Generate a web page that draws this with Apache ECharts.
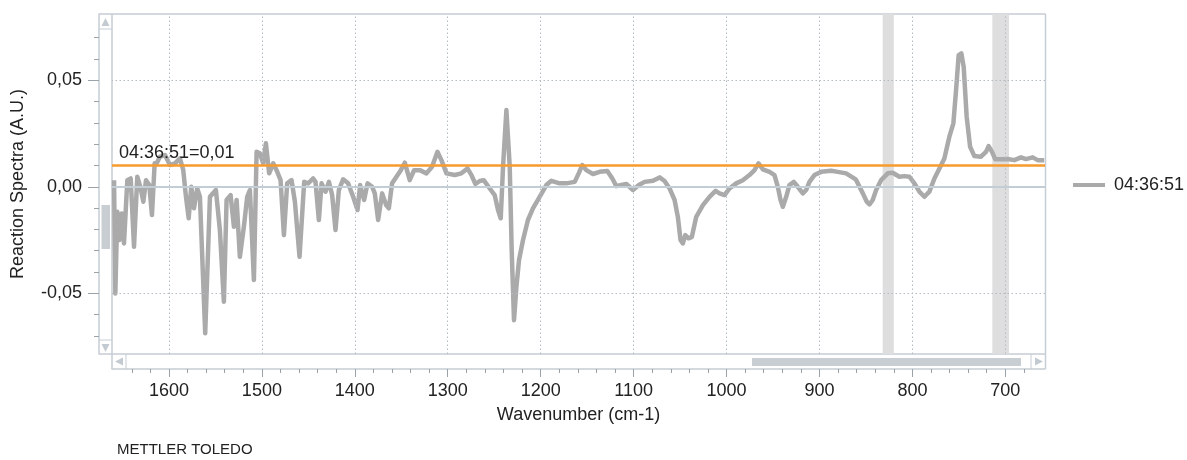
<!DOCTYPE html>
<html>
<head>
<meta charset="utf-8">
<title>Reaction Spectra</title>
<script src="https://cdn.jsdelivr.net/npm/echarts@6/dist/echarts.min.js"></script>
<style>
  html, body { margin: 0; padding: 0; background: #ffffff; }
  #chart { width: 1187px; height: 460px; }
</style>
</head>
<body>
<div id="chart"></div>
<script>
// Spectrum sampled at 04:36:51 (wavenumber in cm-1, absorbance in A.U.)
const wavenumbers = [
  1659.1, 1657.7, 1655.6, 1653.4, 1650.9, 1648.4, 1644.8, 1641.2, 1637.6, 1634.1,
  1630.4, 1627.6, 1624.7, 1621.2, 1618.3, 1615.4, 1613.2, 1609.7, 1604.3, 1598.9,
  1593.5, 1588.2, 1584.6, 1581.7, 1578.8, 1576.0, 1573.1, 1569.6, 1566.7, 1561.0,
  1555.9, 1549.5, 1545.2, 1540.9, 1538.0, 1533.7, 1530.1, 1527.2, 1523.7, 1519.4,
  1515.8, 1512.9, 1508.6, 1505.7, 1502.2, 1498.6, 1495.7, 1492.2, 1487.8, 1484.2,
  1479.9, 1476.3, 1472.8, 1468.1, 1464.5, 1459.5, 1454.5, 1450.2, 1444.8, 1442.3,
  1438.7, 1435.8, 1431.5, 1427.9, 1424.4, 1420.8, 1417.2, 1412.6, 1407.2, 1401.8,
  1397.1, 1394.3, 1390.0, 1386.3, 1381.4, 1378.5, 1374.9, 1370.6, 1366.3, 1363.4,
  1359.9, 1355.2, 1350.5, 1346.2, 1340.9, 1336.2, 1330.1, 1322.9, 1316.9, 1311.1,
  1306.8, 1301.4, 1292.5, 1285.3, 1278.8, 1274.5, 1270.2, 1265.6, 1261.3, 1254.8,
  1249.5, 1245.9, 1243.0, 1240.5, 1236.9, 1233.3, 1231.2, 1228.7, 1226.1, 1223.3,
  1219.0, 1213.7, 1208.3, 1201.1, 1193.9, 1188.5, 1179.6, 1172.4, 1163.4, 1159.1,
  1155.2, 1150.9, 1143.7, 1136.6, 1128.3, 1122.9, 1118.6, 1113.2, 1107.8, 1100.7,
  1094.3, 1088.2, 1079.2, 1072.0, 1066.7, 1061.3, 1055.9, 1052.4, 1049.5, 1047.0,
  1044.4, 1040.9, 1037.3, 1032.6, 1025.4, 1018.3, 1011.8, 1007.5, 1002.2, 996.8,
  989.6, 982.5, 975.3, 969.9, 965.6, 961.0, 953.7, 948.4, 944.8, 941.9,
  939.4, 935.8, 932.3, 927.6, 923.3, 917.9, 914.3, 910.8, 905.4, 898.2,
  887.4, 880.3, 871.3, 861.0, 853.3, 849.1, 846.2, 842.7, 839.0, 833.7,
  826.5, 821.2, 814.0, 808.6, 803.2, 797.8, 792.5, 787.1, 781.7, 776.3,
  770.9, 765.6, 760.2, 755.9, 753.0, 750.2, 747.3, 744.8, 741.6, 737.9,
  733.3, 726.2, 720.8, 718.0, 714.3, 710.8, 704.6, 697.5, 690.3, 683.1,
  677.8, 670.6, 665.2, 658.1
];
const absorbance = [
  0.0031, -0.0501, -0.0117, -0.0250, -0.0125, -0.0266, 0.0031, 0.0039, -0.0282, 0.0047,
  -0.0008, -0.0070, 0.0031, 0.0008, -0.0133, 0.0110, 0.0110, 0.0141, 0.0149, 0.0102,
  0.0110, 0.0133, 0.0078, -0.0047, -0.0148, 0.0000, -0.0101, -0.0008, -0.0047, -0.0688,
  -0.0047, -0.0015, -0.0203, -0.0540, -0.0062, -0.0039, -0.0188, -0.0062, -0.0329, -0.0188,
  -0.0047, -0.0015, -0.0438, 0.0164, 0.0157, 0.0110, 0.0204, 0.0063, 0.0110, 0.0078,
  0.0031, -0.0227, 0.0016, 0.0031, -0.0070, -0.0329, 0.0023, 0.0016, 0.0039, 0.0023,
  -0.0156, 0.0016, -0.0023, 0.0023, -0.0039, -0.0203, -0.0016, 0.0035, 0.0016, -0.0047,
  -0.0109, 0.0008, -0.0062, 0.0016, 0.0000, -0.0031, -0.0156, -0.0031, -0.0086, -0.0101,
  0.0016, 0.0047, 0.0078, 0.0113, 0.0031, 0.0078, 0.0078, 0.0063, 0.0094, 0.0164,
  0.0125, 0.0063, 0.0055, 0.0063, 0.0086, 0.0055, 0.0013, 0.0027, 0.0031, -0.0008,
  -0.0039, -0.0109, -0.0148, 0.0094, 0.0360, 0.0094, -0.0297, -0.0626, -0.0469, -0.0344,
  -0.0250, -0.0156, -0.0101, -0.0047, 0.0008, 0.0028, 0.0016, 0.0016, 0.0023, 0.0063,
  0.0102, 0.0078, 0.0060, 0.0070, 0.0074, 0.0039, 0.0003, 0.0008, 0.0013, -0.0015,
  0.0008, 0.0023, 0.0028, 0.0044, 0.0027, -0.0008, -0.0062, -0.0141, -0.0250, -0.0266,
  -0.0227, -0.0242, -0.0235, -0.0141, -0.0086, -0.0047, -0.0019, -0.0031, -0.0039, -0.0008,
  0.0016, 0.0031, 0.0055, 0.0078, 0.0110, 0.0082, 0.0070, 0.0055, 0.0000, -0.0062,
  -0.0094, -0.0047, 0.0008, 0.0023, 0.0000, -0.0031, -0.0015, 0.0023, 0.0055, 0.0070,
  0.0075, 0.0070, 0.0063, 0.0035, -0.0031, -0.0070, -0.0083, -0.0062, -0.0015, 0.0031,
  0.0063, 0.0066, 0.0047, 0.0050, 0.0047, 0.0016, -0.0023, -0.0047, -0.0023, 0.0039,
  0.0086, 0.0133, 0.0235, 0.0298, 0.0454, 0.0618, 0.0626, 0.0563, 0.0329, 0.0188,
  0.0144, 0.0141, 0.0164, 0.0191, 0.0164, 0.0129, 0.0129, 0.0130, 0.0125, 0.0138,
  0.0130, 0.0138, 0.0125, 0.0125
];

const seriesName = '04:36:51';
// Cursor value read on the spectrum at the selected time
const cursorValue = 0.0113;

// Axis ticks
const majorXTicks = [1600, 1500, 1400, 1300, 1200, 1100, 1000, 900, 800, 700];
const minorXTicks = [1640, 1620, 1580, 1560, 1540, 1520, 1480, 1460, 1440, 1420, 1380, 1360, 1340, 1320,
  1280, 1260, 1240, 1220, 1180, 1160, 1140, 1120, 1080, 1060, 1040, 1020, 980, 960, 940, 920,
  880, 860, 840, 820, 780, 760, 740, 720, 680];
const majorYTicks = [-0.05, 0, 0.05];
const minorYTicks = [-0.07, -0.06, -0.04, -0.03, -0.02, -0.01, 0.01, 0.02, 0.03, 0.04, 0.06, 0.07];

// Highlighted wavenumber regions (cm-1)
const highlightBands = [[832, 820], [714, 696]];

const X_MIN = 657.3, X_MAX = 1661.3;
const Y_MIN = -0.0785, Y_MAX = 0.0811;

const FONT = "'Liberation Sans', Arial, sans-serif";
const TEXT = '#222222';
const FRAME = '#c6cdd4';
const GRIDDOT = '#b3bbc3';
const SCROLL = '#c9ced3';
const TICK = '#9aa2aa';

const fmt = v => v.toFixed(2).replace('.', ',');

const chart = echarts.init(document.getElementById('chart'), null, { renderer: 'canvas' });

const spectrum = wavenumbers.map((w, i) => [w, absorbance[i]]);

const baseX = {
  type: 'value', inverse: true, min: X_MIN, max: X_MAX,
  position: 'bottom', offset: 15, splitLine: { show: false }
};
const baseY = {
  type: 'value', min: Y_MIN, max: Y_MAX,
  position: 'left', offset: 13, splitLine: { show: false }
};

const dotted = { color: GRIDDOT, type: [1.5, 2.5], width: 1 };

chart.setOption({
  animation: false,
  backgroundColor: '#ffffff',
  textStyle: { fontFamily: FONT },
  grid: { left: 112, right: 142, top: 14, bottom: 106, outerBoundsMode: 'none' },
  legend: {
    data: [seriesName],
    left: 1073, top: 176, padding: 0,
    icon: 'rect', itemWidth: 32, itemHeight: 4,
    textStyle: { fontSize: 18, color: TEXT, fontFamily: FONT, padding: [0, 0, 0, 4] }
  },
  xAxis: [
    Object.assign({}, baseX, {
      name: 'Wavenumber (cm-1)', nameLocation: 'middle', nameGap: 37,
      nameTextStyle: { fontSize: 18, color: TEXT, fontFamily: FONT },
      axisLine: { show: true, onZero: false, lineStyle: { color: FRAME, width: 1.5 } },
      axisTick: { show: true, customValues: majorXTicks, length: 8, lineStyle: { color: TICK } },
      axisLabel: {
        show: true, customValues: majorXTicks, margin: 13, fontSize: 18, color: TEXT, fontFamily: FONT,
        formatter: v => String(Math.round(v))
      }
    }),
    Object.assign({}, baseX, {
      axisLine: { show: false, onZero: false },
      axisTick: { show: true, customValues: minorXTicks, length: 4, lineStyle: { color: TICK } },
      axisLabel: { show: false }
    })
  ],
  yAxis: [
    Object.assign({}, baseY, {
      name: 'Reaction Spectra (A.U.)', nameLocation: 'middle', nameGap: 72,
      nameTextStyle: { fontSize: 18, color: TEXT, fontFamily: FONT },
      axisLine: { show: true, onZero: false, lineStyle: { color: FRAME, width: 1.5 } },
      axisTick: { show: true, customValues: majorYTicks, length: 11, lineStyle: { color: TICK } },
      axisLabel: { show: true, customValues: majorYTicks, margin: 17, fontSize: 18, color: TEXT, fontFamily: FONT, formatter: fmt }
    }),
    Object.assign({}, baseY, {
      axisLine: { show: false, onZero: false },
      axisTick: { show: true, customValues: minorYTicks, length: 5, lineStyle: { color: TICK } },
      axisLabel: { show: false }
    })
  ],
  series: [
    {
      // dotted grid lines
      name: 'gridlines', type: 'line', data: [], silent: true, z: 1,
      markLine: {
        silent: true, symbol: ['none', 'none'], animation: false,
        label: { show: false },
        lineStyle: dotted,
        data: majorXTicks.map(x => ({ xAxis: x }))
          .concat(majorYTicks.filter(y => y !== 0).map(y => ({ yAxis: y })))
      }
    },
    {
      // solid zero baseline
      name: 'baseline', type: 'line', data: [], silent: true, z: 2,
      markLine: {
        silent: true, symbol: ['none', 'none'], animation: false,
        label: { show: false },
        lineStyle: { color: '#c4ccd4', type: 'solid', width: 2 },
        data: [{ yAxis: 0 }]
      }
    },
    {
      // highlighted regions
      name: 'regions', type: 'line', data: [], silent: true, z: 1,
      markArea: {
        silent: true,
        itemStyle: { color: '#dedede' },
        data: highlightBands.map(b => [{ xAxis: b[0] }, { xAxis: b[1] }])
      }
    },
    {
      name: seriesName, type: 'line', data: spectrum, z: 3,
      symbol: 'none', showSymbol: false,
      color: '#aaaaaa',
      lineStyle: { color: '#aaaaaa', width: 4.5, join: 'round' },
      emphasis: { disabled: true }
    },
    {
      // cursor line
      name: 'cursor', type: 'line', data: [], silent: true, z: 4,
      markLine: {
        silent: true, symbol: ['none', 'none'], animation: false,
        lineStyle: { color: '#f89a2c', type: 'solid', width: 2.5 },
        label: {
          show: true, position: 'insideEndTop', distance: [7, 3],
          formatter: seriesName + '=' + fmt(cursorValue),
          fontSize: 18, color: TEXT, fontFamily: FONT
        },
        data: [{ yAxis: cursorValue }]
      }
    }
  ],
  graphic: [
    // frame
    { type: 'line', shape: { x1: 99, y1: 14, x2: 1045.5, y2: 14 }, style: { stroke: FRAME, lineWidth: 1.5 }, silent: true },
    { type: 'line', shape: { x1: 1045.5, y1: 14, x2: 1045.5, y2: 369 }, style: { stroke: FRAME, lineWidth: 1.5 }, silent: true },
    { type: 'line', shape: { x1: 112, y1: 14, x2: 112, y2: 369 }, style: { stroke: FRAME, lineWidth: 1.5 }, silent: true },
    { type: 'line', shape: { x1: 99, y1: 354, x2: 1045.5, y2: 354 }, style: { stroke: FRAME, lineWidth: 1.5 }, silent: true },
    // vertical scrollbar
    { type: 'line', shape: { x1: 99, y1: 29, x2: 112, y2: 29 }, style: { stroke: FRAME, lineWidth: 1 }, silent: true },
    { type: 'line', shape: { x1: 99, y1: 340, x2: 112, y2: 340 }, style: { stroke: FRAME, lineWidth: 1 }, silent: true },
    { type: 'polygon', shape: { points: [[105.5, 18], [101.5, 26], [109.5, 26]] }, style: { fill: '#c3cad1' }, silent: true },
    { type: 'polygon', shape: { points: [[101.5, 344], [109.5, 344], [105.5, 352]] }, style: { fill: '#c3cad1' }, silent: true },
    { type: 'rect', shape: { x: 101.5, y: 205, width: 8.5, height: 44 }, style: { fill: SCROLL }, silent: true },
    // horizontal scrollbar
    { type: 'line', shape: { x1: 126, y1: 354, x2: 126, y2: 369 }, style: { stroke: FRAME, lineWidth: 1 }, silent: true },
    { type: 'line', shape: { x1: 1031, y1: 354, x2: 1031, y2: 369 }, style: { stroke: FRAME, lineWidth: 1 }, silent: true },
    { type: 'polygon', shape: { points: [[115, 361.5], [123, 357.5], [123, 365.5]] }, style: { fill: '#c3cad1' }, silent: true },
    { type: 'polygon', shape: { points: [[1035, 357.5], [1043, 361.5], [1035, 365.5]] }, style: { fill: '#c3cad1' }, silent: true },
    { type: 'rect', shape: { x: 752, y: 358, width: 269, height: 8 }, style: { fill: SCROLL }, silent: true },
    // brand
    { type: 'text', left: 117, top: 442, style: { text: 'METTLER TOLEDO', fontSize: 15, fill: TEXT, fontFamily: FONT }, silent: true }
  ]
});
</script>
</body>
</html>
